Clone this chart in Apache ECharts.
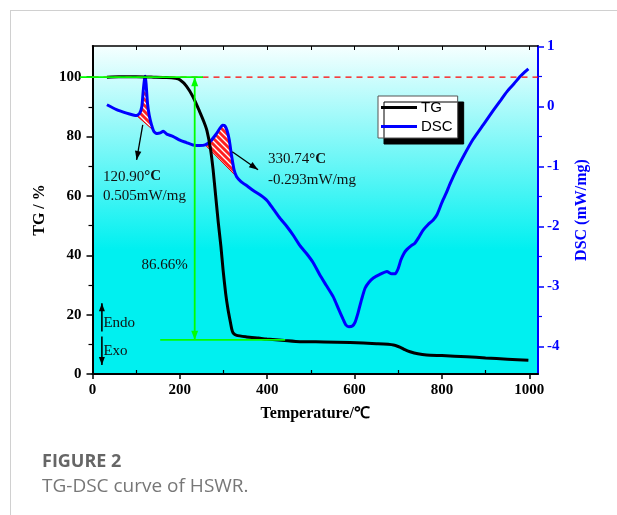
<!DOCTYPE html>
<html>
<head>
<meta charset="utf-8">
<script src="https://cdn.jsdelivr.net/npm/echarts@6/dist/echarts.min.js"></script>
<style>
  html, body { margin: 0; padding: 0; background: #fff; }
  #frame { position: absolute; left: 10px; top: 10px; width: 607px; height: 505px;
           border-left: 1px solid #d0d0d0; border-top: 1px solid #d0d0d0; }
  #chart { position: absolute; left: 0; top: 0; width: 617px; height: 515px; }
</style>
</head>
<body>
<div id="frame"></div>
<div id="chart"></div>
<script>
// ticks
const xTicks = [0, 200, 400, 600, 800, 1000];
const xMinor = [100, 300, 500, 700, 900];
const xTop = [100, 200, 300, 400, 500, 600, 700, 800, 900, 1000];
const tgTicks = [0, 20, 40, 60, 80, 100];
const tgMinor = [10, 30, 50, 70, 90];
const dscTicks = [-4, -3, -2, -1, 0, 1];
const dscMinor = [-3.5, -2.5, -1.5, -0.5, 0.5];

// TG curve [temperature, mass %]
const tgCurve = [
  [33, 100], [60, 100.1], [100, 100.1], [140, 100], [170, 99.9], [190, 99.6], [200, 99.1],
  [215, 97], [230, 93.4], [245, 88.5], [255, 85], [262, 82], [270, 76], [276, 69],
  [282, 60], [288, 51], [294, 43], [299, 35], [305, 27], [310, 22], [315, 18], [319, 15],
  [322, 13.8], [330, 13], [353, 12.5], [380, 12.1], [399, 11.8], [440, 11.3], [475, 10.9],
  [530, 10.8], [590, 10.6], [650, 10.2], [689, 9.8], [705, 9.0], [715, 8.2], [727, 7.5],
  [745, 6.8], [765, 6.4], [800, 6.2], [857, 5.8], [900, 5.4], [950, 5.0], [998, 4.6]
];

// DSC curve [temperature, mW/mg]
const dscCurve = [
  [33, 0.03], [55, -0.05], [78, -0.11], [93, -0.14], [101, -0.15], [108, -0.11], [113, 0.0],
  [116, 0.25], [119, 0.45], [120.9, 0.505], [123, 0.35], [126, 0.05], [130, -0.15],
  [135, -0.3], [141, -0.42], [148, -0.45], [155, -0.44], [162, -0.41], [170, -0.46],
  [185, -0.5], [200, -0.56], [215, -0.6], [230, -0.64], [245, -0.65], [258, -0.64],
  [270, -0.58], [282, -0.47], [292, -0.36], [298, -0.31], [303, -0.32], [308, -0.4],
  [313, -0.55], [318, -0.8], [324, -1.05], [330, -1.17], [340, -1.25], [355, -1.33],
  [368, -1.4], [385, -1.48], [400, -1.57], [415, -1.72], [430, -1.87], [445, -2.0],
  [460, -2.15], [475, -2.32], [490, -2.45], [505, -2.6], [520, -2.8], [535, -2.98],
  [551, -3.17], [563, -3.37], [574, -3.55], [580, -3.64], [587, -3.67], [595, -3.66],
  [601, -3.6], [608, -3.44], [616, -3.22], [624, -3.03], [633, -2.93], [643, -2.86],
  [658, -2.8], [674, -2.75], [685, -2.79], [693, -2.79], [700, -2.7], [706, -2.56],
  [713, -2.45], [719, -2.39], [730, -2.32], [738, -2.28], [748, -2.17], [757, -2.06],
  [768, -1.97], [780, -1.89], [789, -1.8], [800, -1.6], [810, -1.44], [819, -1.28],
  [835, -1.03], [850, -0.82], [871, -0.55], [895, -0.3], [918, -0.06], [934, 0.1],
  [949, 0.25], [965, 0.38], [979, 0.5], [990, 0.58], [998, 0.63]
];

// hatched peak ranges (temperature start/end)
const peakRanges = [[101, 148], [258, 330]];

// annotations in TG-axis coordinates
const lossTop = [[-29, 100], [253, 100]];
const lossBottom = [[155, 11.5], [441, 11.5]];
const lossArrow = [[234, 100], [234, 11.5]];
const peakArrows = [
  [[115, 83.9], [101, 72.1]],
  [[320, 74.9], [379, 68.8]]
];
const peakLabels = [
  { at: [24, 66.5], t: '120.90', v: '0.505mW/mg', at2: [24, 59.8] },
  { at: [402, 72.4], t: '330.74', v: '-0.293mW/mg', at2: [402, 65.4] }
];
const lossLabel = { at: [112, 36.7], text: '86.66%' };
const endoArrow = [[21.5, 14.3], [21.5, 23.8]];
const exoArrow = [[21.5, 12.6], [21.5, 3.0]];
const endoLabel = [25, 17.2];
const exoLabel = [25, 7.8];

const serif = '"Liberation Serif", "Times New Roman", serif';

// hatch pattern
const pat = document.createElement('canvas');
pat.width = 6; pat.height = 6;
const pctx = pat.getContext('2d');
pctx.fillStyle = '#ff2020';
pctx.fillRect(0, 0, 6, 6);
pctx.strokeStyle = '#ffffff';
pctx.lineWidth = 1.3;
pctx.beginPath();
pctx.moveTo(0, 0); pctx.lineTo(6, 6);
pctx.moveTo(-3, 3); pctx.lineTo(3, 9);
pctx.moveTo(3, -3); pctx.lineTo(9, 3);
pctx.stroke();

function arrowHead(tip, from, len, wid, color) {
  const dx = tip[0] - from[0], dy = tip[1] - from[1];
  const d = Math.hypot(dx, dy);
  const ux = dx / d, uy = dy / d;
  const bx = tip[0] - ux * len, by = tip[1] - uy * len;
  return {
    type: 'polygon',
    shape: { points: [tip, [bx - uy * wid, by + ux * wid], [bx + uy * wid, by - ux * wid]] },
    style: { fill: color }
  };
}

function seg(a, b, style) {
  return { type: 'line', shape: { x1: a[0], y1: a[1], x2: b[0], y2: b[1] }, style: style };
}

function renderNotes(params, api) {
  if (params.dataIndex !== 0) return;
  const c = p => api.coord(p);
  const kids = [];
  // red dashed 100% line
  kids.push(seg(c([0, 100]), c([1020, 100]), { stroke: '#ff0000', lineWidth: 1.3, lineDash: [6, 5] }));
  // green mass-loss marks
  const g = { stroke: '#00ff00', lineWidth: 1.8 };
  kids.push(seg(c(lossTop[0]), c(lossTop[1]), g));
  kids.push(seg(c(lossBottom[0]), c(lossBottom[1]), g));
  const a0 = c(lossArrow[0]), a1 = c(lossArrow[1]);
  kids.push(seg(a0, a1, g));
  kids.push(arrowHead(a0, a1, 9, 3.5, '#00ff00'));
  kids.push(arrowHead(a1, a0, 9, 3.5, '#00ff00'));
  // black pointer arrows
  peakArrows.forEach(function (ar) {
    const s = c(ar[0]), e = c(ar[1]);
    kids.push(seg(s, e, { stroke: '#000', lineWidth: 1.3 }));
    kids.push(arrowHead(e, s, 9, 3.2, '#000'));
  });
  // endo / exo arrows
  [endoArrow, exoArrow].forEach(function (ar) {
    const s = c(ar[0]), e = c(ar[1]);
    kids.push(seg(s, e, { stroke: '#000', lineWidth: 1.6 }));
    kids.push(arrowHead(e, s, 8, 3, '#000'));
  });
  const txt = (p, text, extra) => {
    const q = c(p);
    return {
      type: 'text', x: q[0], y: q[1],
      style: Object.assign({ text: text, font: '15px ' + serif, fill: '#111', align: 'left', verticalAlign: 'middle' }, extra || {})
    };
  };
  peakLabels.forEach(function (l) {
    kids.push(txt(l.at, '{a|' + l.t + '}{b|°C}', {
      rich: { a: { font: '15px ' + serif, fill: '#111' }, b: { font: 'bold 15px ' + serif, fill: '#111' } }
    }));
    kids.push(txt(l.at2, l.v));
  });
  kids.push(txt(lossLabel.at, lossLabel.text));
  kids.push(txt(endoLabel, 'Endo'));
  kids.push(txt(exoLabel, 'Exo'));
  return { type: 'group', children: kids };
}

function renderPeaks(params, api) {
  if (params.dataIndex !== 0) return;
  const kids = peakRanges.map(function (r) {
    const pts = dscCurve.filter(p => p[0] >= r[0] && p[0] <= r[1]).map(p => api.coord(p));
    return {
      type: 'polygon',
      shape: { points: pts },
      style: { fill: { image: pat, repeat: 'repeat' }, stroke: '#e00000', lineWidth: 1 }
    };
  });
  return { type: 'group', children: kids };
}

const chart = echarts.init(document.getElementById('chart'));

const labelFont = { fontFamily: serif, fontWeight: 'bold', fontSize: 15 };
const plain = v => String(v);

const option = {
  animation: false,
  backgroundColor: 'transparent',
  grid: {
    left: 92.5, right: 79, top: 46, bottom: 141,
    show: true, borderWidth: 0,
    backgroundColor: new echarts.graphic.LinearGradient(0, 0, 0, 1, [
      { offset: 0, color: '#f6ffff' },
      { offset: 0.62, color: '#00f0f0' },
      { offset: 1, color: '#00f0f0' }
    ]),
    outerBoundsMode: 'none'
  },
  legend: {
    data: ['TG', 'DSC'],
    left: 378, top: 96, orient: 'vertical',
    icon: 'rect', itemWidth: 36, itemHeight: 3, itemGap: 2,
    padding: [3, 5, 3, 3],
    backgroundColor: '#fff', borderColor: '#555', borderWidth: 1,
    shadowColor: '#000', shadowBlur: 0, shadowOffsetX: 6, shadowOffsetY: 6,
    textStyle: { fontFamily: '"Liberation Sans", Arial, sans-serif', fontSize: 15, lineHeight: 17, color: '#000', padding: [0, 0, 0, -1] }
  },
  xAxis: [
    {
      type: 'value', position: 'bottom', min: 0, max: 1020,
      axisLine: { onZero: false, lineStyle: { color: '#000', width: 2 } },
      axisTick: { customValues: xTicks, length: 5, lineStyle: { color: '#000', width: 1.5 } },
      axisLabel: Object.assign({ customValues: xTicks, color: '#000', margin: 9, formatter: plain }, labelFont),
      splitLine: { show: false },
      name: 'Temperature/℃', nameLocation: 'middle', nameGap: 32,
      nameTextStyle: { fontFamily: serif, fontWeight: 'bold', fontSize: 16, color: '#000' }
    },
    {
      type: 'value', position: 'top', min: 0, max: 1020,
      axisLine: { onZero: false, lineStyle: { color: '#000', width: 1.5 } },
      axisTick: { inside: true, customValues: xTop, length: 4, lineStyle: { color: '#000', width: 1 } },
      axisLabel: { show: false },
      splitLine: { show: false }
    },
    {
      type: 'value', position: 'bottom', min: 0, max: 1020,
      axisLine: { show: false, onZero: false },
      axisTick: { inside: true, customValues: xMinor, length: 4, lineStyle: { color: '#000', width: 1.2 } },
      axisLabel: { show: false },
      splitLine: { show: false }
    }
  ],
  yAxis: [
    {
      type: 'value', position: 'left', min: 0, max: 110.5,
      axisLine: { show: true, onZero: false, lineStyle: { color: '#000', width: 2 } },
      axisTick: { show: true, customValues: tgTicks, length: 6, lineStyle: { color: '#000', width: 1.5 } },
      axisLabel: Object.assign({ customValues: tgTicks, color: '#000', margin: 11, formatter: plain }, labelFont),
      splitLine: { show: false },
      name: 'TG / %', nameLocation: 'middle', nameGap: 45, nameRotate: 90,
      nameTextStyle: { fontFamily: serif, fontWeight: 'bold', fontSize: 16, color: '#000' }
    },
    {
      type: 'value', position: 'right', min: -4.46, max: 1.01,
      axisLine: { show: true, onZero: false, lineStyle: { color: '#0000ff', width: 2 } },
      axisTick: { show: true, customValues: dscTicks, length: 6, lineStyle: { color: '#0000ff', width: 1.5 } },
      axisLabel: Object.assign({ customValues: dscTicks, color: '#0000ff', margin: 9, formatter: plain }, labelFont),
      splitLine: { show: false },
      name: 'DSC (mW/mg)', nameLocation: 'middle', nameGap: 36, nameRotate: 90,
      nameTextStyle: { fontFamily: serif, fontWeight: 'bold', fontSize: 16, color: '#0000ff' }
    },
    {
      type: 'value', position: 'left', min: 0, max: 110.5,
      axisLine: { show: false, onZero: false },
      axisTick: { show: true, customValues: tgMinor, length: 4, lineStyle: { color: '#000', width: 1.2 } },
      axisLabel: { show: false },
      splitLine: { show: false }
    },
    {
      type: 'value', position: 'right', min: -4.46, max: 1.01,
      axisLine: { show: false, onZero: false },
      axisTick: { show: true, customValues: dscMinor, length: 4, lineStyle: { color: '#0000ff', width: 1.2 } },
      axisLabel: { show: false },
      splitLine: { show: false }
    }
  ],
  series: [
    {
      name: 'peaks', type: 'custom', xAxisIndex: 0, yAxisIndex: 1,
      data: [[0, 0]], renderItem: renderPeaks, z: 2, silent: true
    },
    {
      name: 'TG', type: 'line', xAxisIndex: 0, yAxisIndex: 0,
      data: tgCurve, showSymbol: false, smooth: 0.2, color: '#000',
      lineStyle: { color: '#000', width: 3 }, z: 4
    },
    {
      name: 'DSC', type: 'line', xAxisIndex: 0, yAxisIndex: 1,
      data: dscCurve, showSymbol: false, smooth: 0.2, color: '#0000ff',
      lineStyle: { color: '#0000ff', width: 3 }, z: 3
    },
    {
      name: 'notes', type: 'custom', xAxisIndex: 0, yAxisIndex: 0,
      data: [[0, 0]], renderItem: renderNotes, z: 5, silent: true
    }
  ],
  graphic: [
    { type: 'text', left: 42, top: 453, style: { text: 'FIGURE 2', font: 'bold 18px "Open Sans", sans-serif', fill: '#666' } },
    { type: 'text', left: 42, top: 477, style: { text: 'TG-DSC curve of HSWR.', font: '19px "Open Sans", sans-serif', fill: '#777' } }
  ]
};

chart.setOption(option);
</script>
</body>
</html>
